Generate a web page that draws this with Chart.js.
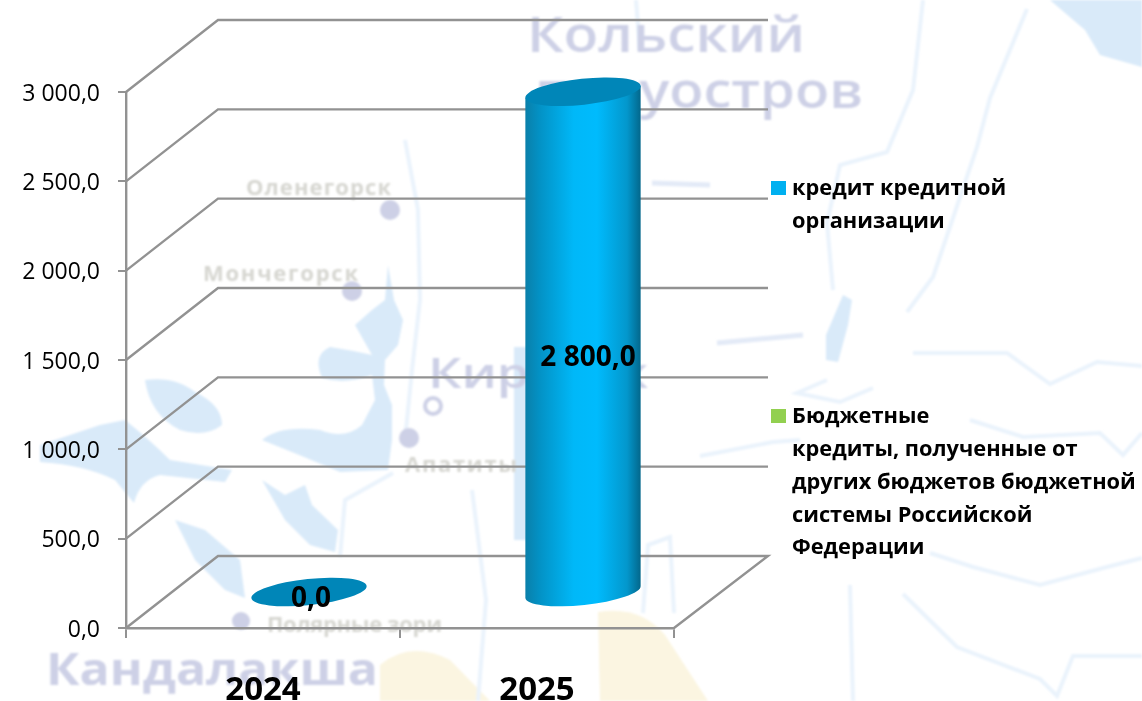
<!DOCTYPE html>
<html lang="ru">
<head>
<meta charset="utf-8">
<title>Кредиты</title>
<script src="https://cdn.jsdelivr.net/npm/chart.js@4"></script>
<style>
  html, body { margin: 0; background: #fff; overflow: hidden; }
  #wrap { position: relative; width: 1142px; height: 701px; }
  #map, #myChart { position: absolute; left: 0; top: 0; }
  #map text { font-family: "Open Sans", sans-serif; }
</style>
</head>
<body>
<div id="wrap">
  <!-- faded map behind the chart -->
  <svg id="map" width="1142" height="701" viewBox="0 0 1142 701">
    <defs><filter id="soft"><feGaussianBlur stdDeviation="1.3"/></filter></defs>
    <g filter="url(#soft)">
      <g fill="#d9eaf9">
        <path d="M1050 0 L1142 0 L1142 67 L1100 55 L1085 30 Z"/>
        <path d="M145 380 Q175 376 195 392 Q222 405 222 425 Q205 438 180 430 Q150 415 145 380 Z"/>
        <path d="M40 445 L100 425 L125 420 Q150 440 170 460 L232 470 L225 482 L160 475 Q140 480 134 503 L115 480 Q85 465 40 462 Z"/>
        <path d="M388 265 L394 300 L403 320 L398 345 L385 360 L384 385 L392 405 L392 440 L388 470 L340 472 Q300 455 262 440 Q280 425 320 430 Q345 440 362 425 L375 400 L372 375 Q345 385 322 378 Q312 355 330 347 Q350 350 372 355 L355 325 L372 310 L385 300 Z"/>
        <path d="M262 480 L285 495 L305 485 L312 505 L338 530 L335 552 L310 545 L285 520 Z"/>
        <path d="M175 520 L205 530 L240 560 L245 598 L225 590 L195 560 Z"/>
        <path d="M843 295 L852 300 L848 325 L838 362 L826 360 L826 335 Z"/>
        <path d="M514 347 L527 347 L527 540 L514 540 Z"/>
      </g>
      <g fill="#fbf5e1">
        <path d="M380 665 Q410 640 450 660 L490 701 L380 701 Z"/>
        <path d="M598 612 Q640 605 665 635 L708 701 L600 701 Z"/>
      </g>
      <g fill="none" stroke="#eaf3fc" stroke-width="4">
        <path d="M923 0 L913 90 L887 152 L840 165 L827 223 L833 290"/>
        <path d="M1027 9 L990 98 L977 147 L933 277 L907 312"/>
        <path d="M913 353 L1007 353 L1050 384 L1097 362 L1142 366"/>
        <path d="M700 456 L773 442 L800 440"/>
        <path d="M970 420 L1023 437 L1100 433 L1123 455 L1142 433"/>
        <path d="M827 380 L797 393 L840 402 L873 388"/>
        <path d="M930 553 L973 567 L1040 585 L1107 567 L1142 558"/>
        <path d="M903 594 L957 647 L1040 679 L1057 696 L1073 656 L1142 656"/>
        <path d="M850 585 L853 701"/>
        <path d="M636 0 L640 50"/>
        <path d="M405 140 L418 210 L420 300 L412 370 L405 440"/>
        <path d="M472 490 L486 600 L478 701"/>
        <path d="M643 613 L648 545 L670 537 L674 613"/>
        <path d="M340 557 L345 500 L393 473"/>
      </g>
      <g fill="none" stroke="#e3eaf7" stroke-width="5">
        <path d="M652 183 L710 185"/>
        <path d="M717 343 L803 335"/>
      </g>
    </g>
    <g fill="#cdd0e6" filter="url(#soft)">
      <text x="527" y="52" font-size="48" font-weight="600" textLength="278" lengthAdjust="spacingAndGlyphs">Кольский</text>
      <text x="535" y="108" font-size="48" font-weight="600" textLength="328" lengthAdjust="spacingAndGlyphs">полуостров</text>
      <text x="46" y="685" font-size="44" font-weight="700" textLength="332" lengthAdjust="spacingAndGlyphs">Кандалакша</text>
      <text x="428" y="388" font-size="42" font-weight="600" textLength="220" lengthAdjust="spacingAndGlyphs">Кировск</text>
      <circle cx="390" cy="210" r="10"/>
      <circle cx="352" cy="291" r="10"/>
      <circle cx="409" cy="438" r="10"/>
      <circle cx="241" cy="621" r="9"/>
      <circle cx="433" cy="406" r="8" fill="none" stroke="#cdd0e6" stroke-width="4"/>
    </g>
    <g fill="#d6d6d0" filter="url(#soft)" font-weight="700" font-size="22">
      <text x="246" y="195" textLength="145">Оленегорск</text>
      <text x="203" y="281" textLength="155">Мончегорск</text>
      <text x="405" y="472" textLength="112">Апатиты</text>
      <text x="267" y="632" textLength="175">Полярные зори</text>
    </g>
  </svg>
  <canvas id="myChart" width="1142" height="701"></canvas>
</div>

<script>
const categories = ["2024", "2025"];
const creditOrgValues = [0, 2800];
const budgetLoanValues = [null, null];
const creditOrgLabel = ["кредит кредитной", "организации"];
const budgetLoanLabel = [
  "Бюджетные",
  "кредиты, полученные от",
  "других бюджетов бюджетной",
  "системы Российской",
  "Федерации",
];
const tickStep = 500;
const axisMax = 3000;

const gridColor = "#929292";
const depthX = 92;
const depthY = 72;

function formatValue(v) {
  const parts = Number(v).toFixed(1).split(".");
  return parts[0].replace(/\B(?=(\d{3})+$)/g, " ") + "," + parts[1];
}

// back wall and floor: diagonal from the axis, then a line along the back
const wallPlugin = {
  id: "wall",
  beforeDatasetsDraw(chart) {
    const { ctx, scales, chartArea } = chart;
    ctx.save();
    ctx.strokeStyle = gridColor;
    ctx.lineWidth = 2.4;
    scales.y.ticks.forEach((t) => {
      const y = scales.y.getPixelForValue(t.value);
      ctx.beginPath();
      ctx.moveTo(chartArea.left, y);
      ctx.lineTo(chartArea.left + depthX, y - depthY);
      ctx.lineTo(chartArea.right + depthX + 2, y - depthY);
      if (t.value === 0) ctx.lineTo(chartArea.right, y);
      ctx.stroke();
    });
    ctx.restore();
  },
};

// bars are drawn as tilted cylinders standing in the middle of the floor
const cylinderPlugin = {
  id: "cylinder",
  beforeDatasetDraw(chart, args) {
    const { ctx, scales } = chart;
    const meta = args.meta;
    const tilt = (-6 * Math.PI) / 180;
    meta.data.forEach((bar, i) => {
      const value = chart.data.datasets[args.index].data[i];
      if (value === null) return;
      const cx = bar.x + depthX / 2;
      const baseY = scales.y.getPixelForValue(0) - depthY / 2;
      const topY = scales.y.getPixelForValue(value) - depthY / 2;
      const a = bar.width / 2;
      const b = 13;
      const ex = a * Math.cos(tilt);
      const ey = a * Math.sin(tilt);

      ctx.save();
      if (value > 0) {
        const g = ctx.createLinearGradient(cx - a, 0, cx + a, 0);
        g.addColorStop(0, "#0a7fa9");
        g.addColorStop(0.12, "#0391c4");
        g.addColorStop(0.42, "#00b8f8");
        g.addColorStop(0.62, "#00bbfd");
        g.addColorStop(0.88, "#0397cc");
        g.addColorStop(1, "#03668a");
        ctx.fillStyle = g;
        ctx.beginPath();
        ctx.moveTo(cx - ex, topY - ey);
        ctx.lineTo(cx - ex, baseY - ey);
        ctx.ellipse(cx, baseY, a, b, tilt, Math.PI, 0, true);
        ctx.lineTo(cx + ex, topY + ey);
        ctx.closePath();
        ctx.fill();
      }
      ctx.fillStyle = "#0086b8";
      ctx.beginPath();
      ctx.ellipse(cx, topY, a, b, tilt, 0, Math.PI * 2);
      ctx.fill();
      ctx.restore();
    });
    return false;
  },
  afterDatasetsDraw(chart) {
    const { ctx, scales } = chart;
    ctx.save();
    ctx.fillStyle = "#000";
    ctx.font = "700 28px 'Open Sans'";
    ctx.textAlign = "center";
    ctx.textBaseline = "middle";
    chart.data.datasets.forEach((ds, d) => {
      chart.getDatasetMeta(d).data.forEach((bar, i) => {
        if (ds.data[i] === null) return;
        const baseY = scales.y.getPixelForValue(0) - depthY / 2;
        const topY = scales.y.getPixelForValue(ds.data[i]) - depthY / 2;
        const shiftX = ds.data[i] > 0 ? 5 : 2;
        ctx.fillText(
          formatValue(ds.data[i]),
          bar.x + depthX / 2 + shiftX,
          baseY + 7 - 0.482 * (baseY - topY)
        );
      });
    });
    ctx.restore();
  },
};

// legend sits far apart on the right, each entry wraps on several lines
const legendPlugin = {
  id: "sideLegend",
  afterDraw(chart) {
    const { ctx } = chart;
    const tops = [189, 417];
    ctx.save();
    ctx.font = "700 21.8px 'Open Sans'";
    ctx.textBaseline = "middle";
    chart.data.datasets.forEach((ds, d) => {
      ctx.fillStyle = ds.backgroundColor;
      ctx.fillRect(771, tops[d] - 8, 15, 14);
      ctx.fillStyle = "#000";
      ds.label.forEach((line, i) => {
        ctx.fillText(line, 792, tops[d] + i * 32.8);
      });
    });
    ctx.restore();
  },
};

new Chart(document.getElementById("myChart"), {
  type: "bar",
  data: {
    labels: categories,
    datasets: [
      { label: creditOrgLabel, data: creditOrgValues, backgroundColor: "#00b0f0" },
      { label: budgetLoanLabel, data: budgetLoanValues, backgroundColor: "#92d050" },
    ],
  },
  options: {
    responsive: false,
    animation: false,
    layout: { padding: { top: 92, right: 468, left: 0, bottom: 0 } },
    datasets: { bar: { barPercentage: 1, categoryPercentage: 0.423 } },
    plugins: { legend: { display: false }, tooltip: { enabled: false } },
    scales: {
      x: {
        stacked: true,
        afterFit(scale) {
          scale.height = 73;
        },
        grid: { offset: true, drawOnChartArea: false, color: gridColor, lineWidth: 2, tickLength: 10 },
        border: { color: gridColor, width: 2.4 },
        ticks: {
          color: "#000",
          padding: 33,
          maxRotation: 0,
          font: { family: "Open Sans", size: 33, weight: "700" },
        },
      },
      y: {
        stacked: true,
        min: 0,
        max: axisMax,
        afterFit(scale) {
          scale.width = 126;
        },
        grid: { drawOnChartArea: false, color: gridColor, lineWidth: 2, tickLength: 8 },
        border: { color: gridColor, width: 2.4 },
        ticks: {
          stepSize: tickStep,
          color: "#000",
          padding: 18,
          labelOffset: 2,
          font: { family: "Open Sans", size: 23 },
          callback: (v) => formatValue(v),
        },
      },
    },
  },
  plugins: [wallPlugin, cylinderPlugin, legendPlugin],
});
</script>
</body>
</html>
